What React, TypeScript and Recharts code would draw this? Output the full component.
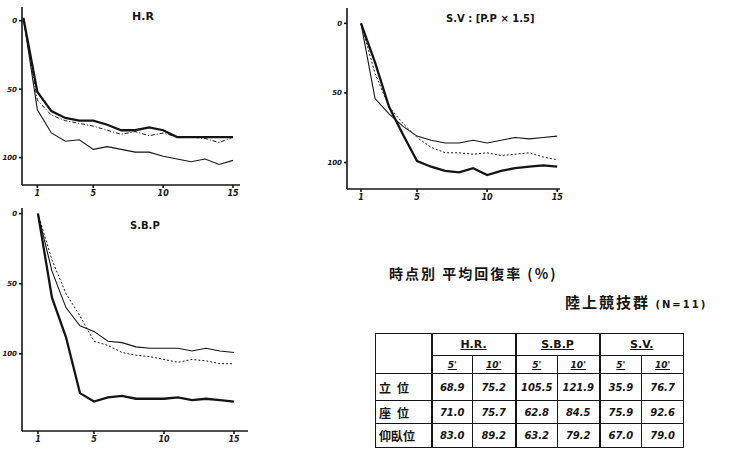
import React from "react";
import { LineChart, Line, XAxis, YAxis } from "recharts";

// time (minutes)
const hrTime = [0, 1, 2, 3, 4, 5, 6, 7, 8, 9, 10, 11, 12, 13, 14, 15];
const hrThick = [-2, 52, 66, 71, 73, 73, 76, 80, 80, 78, 80, 85, 85, 85, 85, 85];
const hrDashed = [-2, 58, 69, 73, 75, 77, 80, 83, 81, 84, 82, 85, 85, 86, 89, 85];
const hrThin = [-2, 65, 82, 88, 87, 94, 92, 94, 96, 96, 99, 101, 103, 101, 105, 102];

const svTime = [1, 2, 3, 4, 5, 6, 7, 8, 9, 10, 11, 12, 13, 14, 15];
const svThick = [0, 28, 60, 80, 99, 103, 106, 107, 104, 109, 106, 104, 103, 102, 103];
const svDotted = [0, 36, 60, 72, 82, 89, 93, 93, 94, 93, 95, 94, 93, 96, 98];
const svThin = [0, 54, 65, 74, 81, 84, 86, 86, 84, 86, 84, 82, 83, 82, 81];

const sbpTime = [1, 2, 3, 4, 5, 6, 7, 8, 9, 10, 11, 12, 13, 14, 15];
const sbpThick = [0, 60, 88, 128, 134, 131, 130, 132, 132, 132, 131, 133, 132, 133, 134];
const sbpThin = [0, 41, 67, 80, 84, 91, 92, 95, 96, 96, 96, 98, 96, 98, 99];
const sbpDotted = [0, 33, 57, 73, 91, 94, 99, 101, 102, 104, 106, 104, 105, 107, 107];

const xTicks = [1, 5, 10, 15];
const yTicks = [0, 50, 100];

// table
const groups = ["H.R.", "S.B.P", "S.V."];
const subCols = ["5'", "10'"];
const rowLabels = ["立位", "座位", "仰臥位"];
const standing = ["68.9", "75.2", "105.5", "121.9", "35.9", "76.7"];
const sitting = ["71.0", "75.7", "62.8", "84.5", "75.9", "92.6"];
const supine = ["83.0", "89.2", "63.2", "79.2", "67.0", "79.0"];
const tableRows = [standing, sitting, supine];

const INK = "#141414";

const yTick = { fontSize: 7, fill: INK, fontWeight: 700, fontStyle: "italic" };
const xTick = { fontSize: 8, fill: INK, fontWeight: 700, fontStyle: "italic" };

function build(time: number[], a: number[], b: number[], c: number[]) {
  return time.map((t, i) => ({ t, a: a[i], b: b[i], c: c[i] }));
}

type PanelProps = {
  data: any[];
  left: number;
  top: number;
  width: number;
  height: number;
  yWidth: number;
  right: number;
  mTop: number;
  xDomain: [number, number];
  yDomain: [number, number];
  dashB: string;
};

function Panel(p: PanelProps) {
  return (
    <div style={{ position: "absolute", left: p.left, top: p.top }}>
      <LineChart
        width={p.width}
        height={p.height}
        data={p.data}
        margin={{ top: p.mTop, right: p.right, bottom: 0, left: 0 }}
      >
        <XAxis
          dataKey="t"
          type="number"
          domain={p.xDomain}
          ticks={xTicks}
          allowDataOverflow
          height={20}
          tick={xTick}
          tickSize={3}
          stroke={INK}
          strokeWidth={1.6}
        />
        <YAxis
          type="number"
          reversed
          domain={p.yDomain}
          ticks={yTicks}
          allowDataOverflow
          width={p.yWidth}
          tick={yTick}
          tickSize={3}
          stroke={INK}
          strokeWidth={1.6}
        />
        <Line type="linear" dataKey="a" stroke={INK} strokeWidth={2.3} dot={false} isAnimationActive={false} />
        <Line type="linear" dataKey="b" stroke={INK} strokeWidth={1} strokeDasharray={p.dashB} dot={false} isAnimationActive={false} />
        <Line type="linear" dataKey="c" stroke={INK} strokeWidth={1.1} dot={false} isAnimationActive={false} />
      </LineChart>
    </div>
  );
}

const cell: React.CSSProperties = {
  border: `1px solid ${INK}`,
  padding: 0,
  textAlign: "center",
  verticalAlign: "middle",
};

export default function App() {
  const hrData = build(hrTime, hrThick, hrDashed, hrThin);
  const svData = build(svTime, svThick, svDotted, svThin);
  const sbpData = build(sbpTime, sbpThick, sbpDotted, sbpThin);
  const colW = [56, 41, 43, 42, 42, 42, 42];

  return (
    <div
      style={{
        position: "absolute",
        left: 0,
        top: 0,
        width: 730,
        height: 451,
        overflow: "hidden",
        background: "#fff",
        fontFamily: "'DejaVu Sans', sans-serif",
        color: INK,
      }}
    >
      <Panel data={hrData} left={0} top={0} width={250} height={205} yWidth={22} right={10} mTop={7}
        xDomain={[-0.1, 15.5]} yDomain={[-10, 120]} dashB="4 2 1 2" />
      <Panel data={svData} left={322} top={0} width={250} height={209} yWidth={25} right={12} mTop={8}
        xDomain={[0, 15.2]} yDomain={[-11, 119]} dashB="2 2" />
      <Panel data={sbpData} left={0} top={200} width={258} height={251} yWidth={22} right={10} mTop={8}
        xDomain={[-0.14, 16]} yDomain={[-4, 155]} dashB="2 2" />

      <div style={{ position: "absolute", left: 132, top: 10, fontSize: 11, fontWeight: 700 }}>H.R</div>
      <div style={{ position: "absolute", left: 446, top: 13, fontSize: 10, fontWeight: 700, whiteSpace: "nowrap" }}>
        S.V : [P.P × 1.5]
      </div>
      <div style={{ position: "absolute", left: 130, top: 220, fontSize: 10, fontWeight: 700 }}>S.B.P</div>

      <div
        style={{
          position: "absolute",
          left: 389,
          top: 263,
          fontSize: 14,
          fontWeight: 700,
          letterSpacing: 2,
          whiteSpace: "nowrap",
          fontFamily: "'Noto Sans CJK JP', sans-serif",
        }}
      >
        時点別 平均回復率 (%)
      </div>
      <div
        style={{
          position: "absolute",
          left: 565,
          top: 291,
          fontSize: 15,
          fontWeight: 700,
          letterSpacing: 2,
          whiteSpace: "nowrap",
          fontFamily: "'Noto Sans CJK JP', sans-serif",
        }}
      >
        陸上競技群{" "}
        <span style={{ fontSize: 10, letterSpacing: 2, fontFamily: "'DejaVu Sans', sans-serif" }}>(N=11)</span>
      </div>

      <table
        style={{
          position: "absolute",
          left: 375,
          top: 333,
          width: 308,
          borderCollapse: "collapse",
          tableLayout: "fixed",
          fontSize: 10,
        }}
      >
        <colgroup>
          {colW.map((w, i) => (
            <col key={i} style={{ width: w }} />
          ))}
        </colgroup>
        <tbody>
          <tr style={{ height: 22 }}>
            <td rowSpan={2} style={{ ...cell, borderRight: `2px solid ${INK}` }} />
            {groups.map((g, i) => (
              <td
                key={g}
                colSpan={2}
                style={{ ...cell, borderRight: i < 2 ? `2px solid ${INK}` : cell.border, fontWeight: 700, fontSize: 11 }}
              >
                <span style={{ textDecoration: "underline" }}>{g}</span>
              </td>
            ))}
          </tr>
          <tr style={{ height: 18 }}>
            {groups.flatMap((g, gi) =>
              subCols.map((s, si) => (
                <td
                  key={g + s}
                  style={{
                    ...cell,
                    borderRight: si === 1 && gi < 2 ? `2px solid ${INK}` : cell.border,
                    fontStyle: "italic",
                    fontWeight: 700,
                    fontSize: 9,
                  }}
                >
                  <span style={{ textDecoration: "underline" }}>{s}</span>
                </td>
              ))
            )}
          </tr>
          {tableRows.map((row, ri) => (
            <tr key={ri} style={{ height: [27, 23, 24][ri] }}>
              <td
                style={{
                  ...cell,
                  borderRight: `2px solid ${INK}`,
                  fontFamily: "'Noto Sans CJK JP', sans-serif",
                  fontWeight: 700,
                  fontSize: 12,
                  textAlign: "left",
                  paddingLeft: 3,
                  letterSpacing: ri === 2 ? 0 : 6,
                }}
              >
                {rowLabels[ri]}
              </td>
              {row.map((v, ci) => (
                <td
                  key={ci}
                  style={{
                    ...cell,
                    borderRight: (ci === 1 || ci === 3) ? `2px solid ${INK}` : cell.border,
                    fontStyle: "italic",
                    fontWeight: 700,
                    fontSize: 10,
                  }}
                >
                  {v}
                </td>
              ))}
            </tr>
          ))}
        </tbody>
      </table>
    </div>
  );
}
